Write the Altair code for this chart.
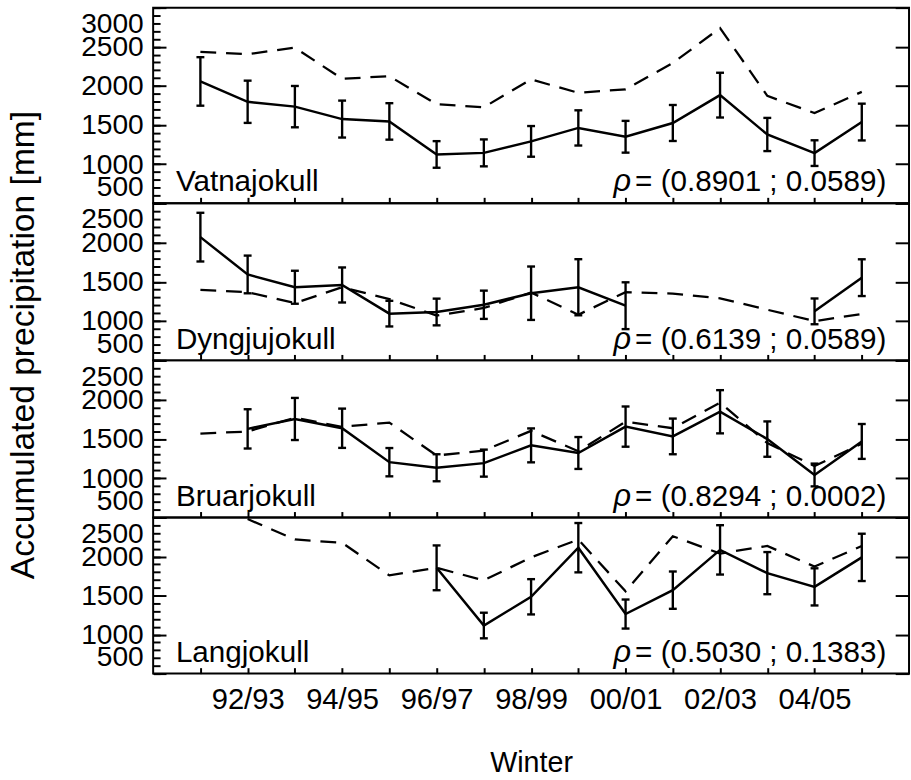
import altair as alt
import pandas as pd

# ---------------- data ----------------
winters = list(range(1991, 2006))          # start year of each winter (91/92 ... 05/06)
label_years = [1992, 1994, 1996, 1998, 2000, 2002, 2004]
label_names = ["92/93", "94/95", "96/97", "98/99", "00/01", "02/03", "04/05"]

glaciers = ["Vatnajokull", "Dyngjujokull", "Bruarjokull", "Langjokull"]
rho_vals = ["= (0.8901 ; 0.0589)", "= (0.6139 ; 0.0589)",
            "= (0.8294 ; 0.0002)", "= (0.5030 ; 0.1383)"]
y_top = [3000, 2500, 2500, 2500]

vat_obs = [2057, 1797, 1735, 1576, 1546, 1124, 1144, 1291, 1463, 1350, 1526, 1882, 1379, 1141, 1538]
vat_err = [310, 270, 264, 236, 233, 170, 172, 196, 225, 203, 230, 286, 212, 164, 235]
vat_mod = [2434, 2405, 2488, 2091, 2124, 1765, 1727, 2083, 1911, 1957, 2292, 2739, 1873, 1652, 1924]

dyn_obs = [2069, 1594, 1431, 1460, 1095, 1116, 1208, 1355, 1431, 1196, None, None, None, 1124, 1553]
dyn_err = [310, 240, 210, 223, 163, 170, 180, 340, 357, 298, None, None, None, 164, 234]
dyn_mod = [1397, 1368, 1230, 1431, 1280, 1070, 1167, 1364, 1082, 1368, 1350, 1290, 1145, 1000, 1091]

bru_obs = [None, 1628, 1754, 1636, 1204, 1133, 1192, 1418, 1321, 1657, 1532, 1846, 1498, 1041, 1468]
bru_err = [None, 250, 268, 250, 180, 172, 172, 216, 203, 256, 227, 275, 225, 145, 222]
bru_mod = [1569, 1594, 1770, 1654, 1708, 1289, 1352, 1603, 1343, 1720, 1636, 1963, 1447, 1154, 1440]

lan_obs = [None, None, None, None, None, 1855, 1116, 1484, 2113, 1263, 1569, 2085, 1787, 1611, 1989]
lan_err = [None, None, None, None, None, 287, 164, 226, 316, 186, 239, 316, 270, 238, 303]
lan_mod = [None, 2480, 2218, 2176, 1758, 1855, 1695, 1989, 2218, 1554, 2260, 2038, 2135, 1871, 2135]

obs = [vat_obs, dyn_obs, bru_obs, lan_obs]
err = [vat_err, dyn_err, bru_err, lan_err]
mod = [vat_mod, dyn_mod, bru_mod, lan_mod]

# ---------------- layout constants ----------------
FONT = "Liberation Sans"
W = 765
HEIGHTS = [198, 159, 159, 158]
X_DOMAIN = [1990, 2006]
MINOR_LEN, MAJOR_LEN, XTICK_LEN = 7, 13, 6

label_expr = ("[" + ",".join("'%s'" % s for s in label_names) + "][indexof(["
              + ",".join(str(v) for v in label_years) + "], datum.value)]")


def rows_with_segments(values, errs=None):
    out, seg = [], 0
    for i, (yr, v) in enumerate(zip(winters, values)):
        if v is None:
            seg += 1
            continue
        r = {"year": yr, "val": v, "seg": seg}
        if errs is not None:
            r["lo"] = v - errs[i]
            r["hi"] = v + errs[i]
        out.append(r)
    return pd.DataFrame(out)


def make_panel(k):
    H = HEIGHTS[k]
    ymax = y_top[k]
    major = list(range(500, ymax + 1, 500))
    minor = list(range(500, ymax + 1, 100))

    d_obs = rows_with_segments(obs[k], err[k])
    d_mod = rows_with_segments(mod[k])
    caps = pd.concat([
        pd.DataFrame({"year": d_obs["year"], "cap": d_obs["lo"]}),
        pd.DataFrame({"year": d_obs["year"], "cap": d_obs["hi"]}),
    ])

    xs = alt.Scale(domain=X_DOMAIN, nice=False, zero=False)
    ys = alt.Scale(domain=[500, ymax], nice=False, zero=False)

    ylab_kw = dict(orient="left", values=major, ticks=False, domain=False, grid=False,
                   labelFontSize=28.5, labelColor="black", labelPadding=10,
                   labelFlush=True, labelFlushOffset=-2, labelOverlap=False, format="d")
    if k == 1:
        ylab_kw.update(title="Accumulated precipitation [mm]", titleFontSize=34,
                       titleFontWeight="normal", titleColor="black", titleX=-121,
                       titleY=143, titleAngle=270, titleBaseline="alphabetic")
    else:
        ylab_kw.update(title=None)
    y_lab_axis = alt.Axis(**ylab_kw)

    # inward ticks: a left-oriented axis shifted right by its tick length draws
    # ticks that start on the left border and point into the plot
    y_minor_axis = alt.Axis(orient="left", offset=-MINOR_LEN, values=minor,
                            tickSize=MINOR_LEN, tickWidth=2, tickColor="black",
                            labels=False, domain=False, grid=False, title=None)
    y_major_axis = alt.Axis(orient="left", offset=-MAJOR_LEN, values=major,
                            tickSize=MAJOR_LEN, tickWidth=2, tickColor="black",
                            labels=False, domain=False, grid=False, title=None)
    y_right_axis = alt.Axis(orient="left", offset=-W, values=major, tickSize=14,
                            tickWidth=2, tickColor="black", labels=False,
                            domain=False, grid=False, title=None)
    x_tick_axis = alt.Axis(orient="bottom", offset=-XTICK_LEN, values=winters,
                           tickSize=XTICK_LEN, tickWidth=2, tickColor="black",
                           labels=False, domain=False, grid=False, title=None)
    if k == 3:
        x_lab_axis = alt.Axis(orient="bottom", values=label_years, ticks=False,
                              domain=False, grid=False, labelExpr=label_expr,
                              labelFontSize=29.5, labelColor="black", labelPadding=12,
                              title="Winter", titleFontSize=29, titleFontWeight="normal",
                              titleColor="black", titlePadding=36)
    else:
        x_lab_axis = None

    solid = alt.Chart(d_obs).mark_line(color="black", strokeWidth=2.5).encode(
        x=alt.X("year:Q", scale=xs, axis=x_lab_axis),
        y=alt.Y("val:Q", scale=ys, axis=y_lab_axis),
        detail="seg:N",
    )
    bars = alt.Chart(d_obs).mark_rule(color="black", strokeWidth=2.4).encode(
        x=alt.X("year:Q", scale=xs, axis=x_tick_axis),
        y=alt.Y("lo:Q", scale=ys, axis=y_minor_axis),
        y2="hi:Q",
    )
    capm = alt.Chart(caps).mark_tick(color="black", orient="horizontal", size=8,
                                     thickness=2.4, opacity=1).encode(
        x=alt.X("year:Q", scale=xs, axis=None),
        y=alt.Y("cap:Q", scale=ys, axis=y_major_axis),
    )
    dashed = alt.Chart(d_mod).mark_line(color="black", strokeWidth=2.3,
                                        strokeDash=[16, 10]).encode(
        x=alt.X("year:Q", scale=xs, axis=None),
        y=alt.Y("val:Q", scale=ys, axis=y_right_axis),
        detail="seg:N",
    )
    txt = pd.DataFrame({"name": [glaciers[k]], "rho": [rho_vals[k]], "sym": ["ρ"]})
    name_t = alt.Chart(txt).mark_text(align="left", baseline="alphabetic", fontSize=30,
                                      color="black").encode(
        x=alt.value(23), y=alt.value(H - 12), text="name:N")
    rho_t = alt.Chart(txt).mark_text(align="right", baseline="alphabetic", fontSize=30,
                                     color="black").encode(
        x=alt.value(742), y=alt.value(H - 12), text="rho:N")
    sym_t = alt.Chart(txt).mark_text(align="left", baseline="alphabetic", fontSize=31,
                                     fontStyle="italic", color="black").encode(
        x=alt.value(466), y=alt.value(H - 12), text="sym:N")

    return alt.layer(solid, bars, capm, dashed, name_t, rho_t, sym_t).resolve_axis(
        x="independent", y="independent"
    ).properties(width=W, height=H)


panels = [make_panel(k) for k in range(4)]

chart = alt.vconcat(*panels, spacing=0, bounds="flush").properties(
    padding={"left": 5, "top": 1, "right": 0, "bottom": 0},
    background="white",
).configure(
    font=FONT
).configure_view(
    stroke="black", strokeWidth=2
)

chart.save("out.html", embed_options={"renderer": "svg", "actions": False})
